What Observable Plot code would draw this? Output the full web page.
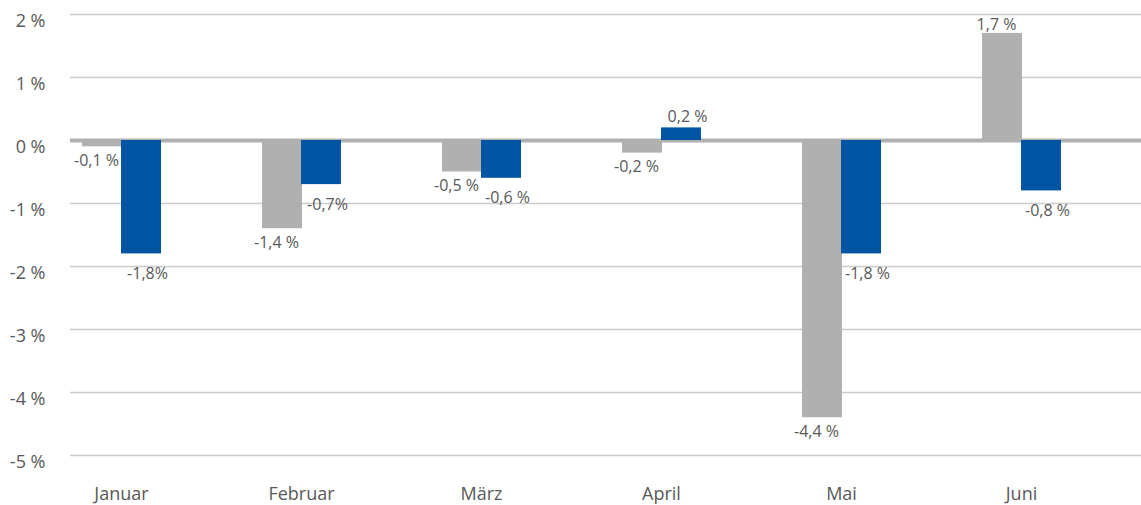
<!DOCTYPE html>
<html>
<head>
<meta charset="utf-8">
<script src="https://cdn.jsdelivr.net/npm/d3@7"></script>
<script src="https://cdn.jsdelivr.net/npm/@observablehq/plot@0.6"></script>
<style>
  html, body { margin: 0; padding: 0; background: #fff; }
  #chart svg { display: block; }
</style>
</head>
<body>
<div id="chart"></div>
<script>
const months = ["Januar", "Februar", "März", "April", "Mai", "Juni"];
const grayValues = [-0.1, -1.4, -0.5, -0.2, -4.4, 1.7];
const blueValues = [-1.8, -0.7, -0.6, 0.2, -1.8, -0.8];
const grayLabels = ["-0,1 %", "-1,4 %", "-0,5 %", "-0,2 %", "-4,4 %", "1,7 %"];
const blueLabels = ["-1,8%", "-0,7%", "-0,6 %", "0,2 %", "-1,8 %", "-0,8 %"];
const yTicks = [2, 1, 0, -1, -2, -3, -4, -5];

const gray = months.map((m, i) => ({month: m, value: grayValues[i], label: grayLabels[i]}));
const blue = months.map((m, i) => ({month: m, value: blueValues[i], label: blueLabels[i]}));

const font = "'Open Sans', 'Noto Sans', sans-serif";
const textColor = "#595959";

const labelMarks = (data, dx, dyNeg, dyPos) => [
  Plot.text(data.filter(d => d.value < 0), {x: "month", y: "value", text: "label", dx, dy: dyNeg,
    fontSize: 16, fill: textColor, fontFamily: font}),
  Plot.text(data.filter(d => d.value >= 0), {x: "month", y: "value", text: "label", dx, dy: dyPos,
    fontSize: 16, fill: textColor, fontFamily: font})
];

const chart = Plot.plot({
  width: 1141,
  height: 505,
  marginLeft: 70,
  marginRight: 0,
  marginTop: 14,
  marginBottom: 50,
  style: {fontFamily: font, color: textColor, background: "#fff"},
  x: {domain: months, range: [30, 1112], padding: 0, label: null},
  y: {domain: [-5, 2], label: null},
  marks: [
    Plot.ruleY(yTicks.filter(d => d !== 0), {stroke: "#cccccc", strokeWidth: 1.5}),
    Plot.ruleY([0], {stroke: "#b0b0b0", strokeWidth: 4}),
    Plot.barY(gray, {x: "month", y: "value", fill: "#b0b0b0", insetLeft: 51, insetRight: 89}),
    Plot.barY(blue, {x: "month", y: "value", fill: "#0054a4", insetLeft: 90, insetRight: 50}),
    ...labelMarks(gray, -25, 14, -9),
    ...labelMarks(blue, 26, 20, -11),
    Plot.axisY(yTicks, {tickSize: 0, tickPadding: 25, dy: 7, fontSize: 18, fill: textColor,
      tickFormat: d => `${d} %`, label: null}),
    Plot.axisX({tickSize: 0, tickPadding: 32, fontSize: 18, fill: textColor, label: null})
  ]
});
document.getElementById("chart").appendChild(chart);
</script>
</body>
</html>
